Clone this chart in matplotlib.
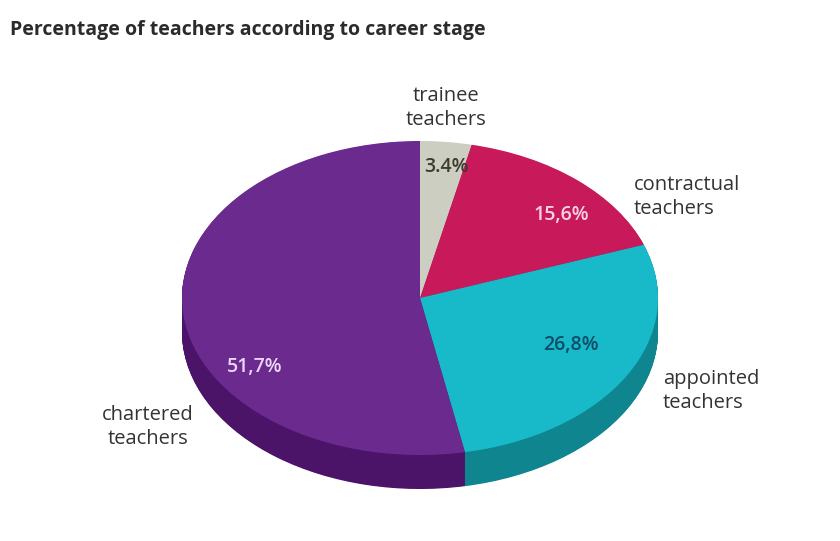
import matplotlib
matplotlib.use("Agg")
import matplotlib.pyplot as plt
import numpy as np

# Share of teachers by career stage (clockwise from the top)
stages = ["trainee\nteachers", "contractual\nteachers", "appointed\nteachers", "chartered\nteachers"]
shares = [3.4, 15.6, 26.8, 51.7]
share_labels = ["3.4%", "15,6%", "26,8%", "51,7%"]

top_colors = ["#CDCEC2", "#C8195B", "#18B9C9", "#6B2A8E"]
side_colors = ["#9C9D92", "#8E0F3E", "#0E858F", "#4C1469"]
pct_colors = ["#3B3B2E", "#F6D3E3", "#0C4E66", "#EBD6F5"]

W, H = 840, 541
# ellipse geometry of the pie top, in pixels
cx, cy, rx, ry = 420, 298, 238, 157
depth = 34

fig = plt.figure(figsize=(W / 100, H / 100), dpi=100)
fig.patch.set_facecolor("white")
ax = fig.add_axes([0, 0, 1, 1])

# stacked darker pies give the side wall
n_layers = 60
for k in range(n_layers, 0, -1):
    dy = -depth / ry * k / n_layers
    ax.pie(shares, colors=side_colors, startangle=90, counterclock=False,
           center=(0, dy), wedgeprops=dict(linewidth=0, antialiased=True))
ax.pie(shares, colors=top_colors, startangle=90, counterclock=False,
       center=(0, 0), wedgeprops=dict(linewidth=0))

ax.set_aspect("auto")
ax.set_xlim((0 - cx) / rx, (W - cx) / rx)
ax.set_ylim((cy - H) / ry, cy / ry)
ax.axis("off")


def px(x, y):
    return x / W, 1 - y / H


font = "Open Sans"

fig.text(*px(10, 30), "Percentage of teachers according to career stage",
         fontsize=14, fontweight="bold", family=font, color="#2B2B2B",
         ha="left", va="center")

# percentages inside the slices
pct_pos = [(446, 167), (561, 215), (571, 345), (255, 367)]
for lab, (x, y), c in zip(share_labels, pct_pos, pct_colors):
    fig.text(*px(x, y), lab, fontsize=14, family=font, color=c,
             ha="center", va="center", fontweight="semibold")

# category names around the pie
cat_pos = [(446, 108, "center"), (634, 197, "left"), (663, 391, "left"), (148, 427, "center")]
for name, (x, y, ha) in zip(stages, cat_pos):
    fig.text(*px(x, y), name, fontsize=14.5, family=font, color="#333333",
             ha=ha, va="center", linespacing=1.3, multialignment="center" if ha == "center" else "left")

fig.savefig("out.png", dpi=100)
